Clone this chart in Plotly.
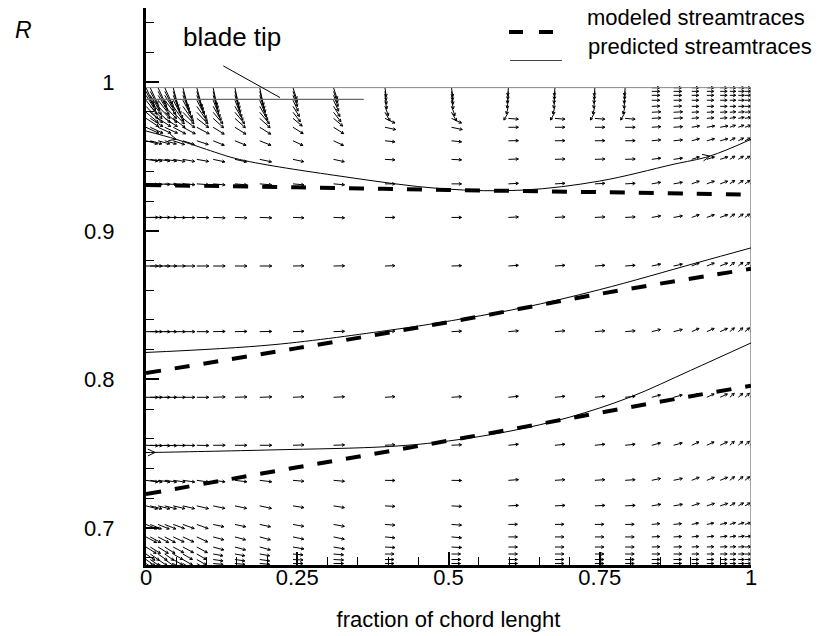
import math
import plotly.graph_objects as go

# ---------------- layout constants ----------------
FIG_W, FIG_H = 832, 636
M_L, M_R, M_T, M_B = 146, 81, 8, 71
X_RANGE = [0.0, 1.0]
Y_RANGE = [0.675, 1.05]
FONT = "Liberation Sans, Arial, Helvetica, sans-serif"

# ---------------- data ----------------
# modeled streamtraces (dashed)
mod_top_x = [0.0, 0.25, 0.5, 0.75, 1.0]
mod_top_R = [0.9308, 0.9293, 0.9275, 0.9260, 0.9243]
mod_mid_x = [0.0, 0.25, 0.5, 0.75, 1.0]
mod_mid_R = [0.8042, 0.8210, 0.8385, 0.8575, 0.8744]
mod_bot_x = [0.0, 0.125, 0.25, 0.375, 0.5, 0.625, 0.75, 0.875, 1.0]
mod_bot_R = [0.7227, 0.7318, 0.7408, 0.7497, 0.7587, 0.7680, 0.7775, 0.7868, 0.7957]

# predicted streamtraces (solid)
pre_top_x = [0.0, 0.05, 0.10, 0.155, 0.321, 0.49, 0.623, 0.75, 0.871, 0.932, 1.0]
pre_top_R = [0.9672, 0.9616, 0.9548, 0.9480, 0.9368, 0.9283, 0.9274, 0.9335, 0.9447, 0.9503, 0.9616]
pre_mid_x = [0.0, 0.21, 0.408, 0.49, 0.62, 0.75, 0.91, 1.0]
pre_mid_R = [0.8181, 0.8233, 0.8334, 0.8385, 0.8480, 0.8604, 0.8784, 0.8885]
pre_bot_x = [0.0, 0.015, 0.21, 0.403, 0.5, 0.6, 0.7, 0.8, 0.9, 1.0]
pre_bot_R = [0.7507, 0.7508, 0.7525, 0.7548, 0.7585, 0.7650, 0.7745, 0.7880, 0.8060, 0.8245]
# index of the point carrying a direction arrowhead on each predicted trace
pre_top_heads = [1, 9]
pre_bot_heads = [1]

# boundaries
domain_top_R = 0.9964
blade_tip_R = 0.9885
blade_tip_x = [0.0, 0.36]
leader_x = [0.1278, 0.2215]
leader_R = [1.011, 0.9897]

# vector grid: chordwise stations, radial stations
vec_x = [0.0, 0.007, 0.02, 0.031, 0.045, 0.061, 0.084, 0.111, 0.147, 0.188,
         0.243, 0.31, 0.395, 0.505, 0.599, 0.676, 0.742, 0.792, 0.836, 0.872,
         0.902, 0.927, 0.949, 0.965, 0.979, 0.99, 0.998]
vec_zone = [0, 0, 0, 0, 1, 1, 1, 2, 2, 2,
            3, 3, 4, 4, 5, 5, 5, 5, 6, 6,
            7, 7, 7, 8, 8, 8, 8]
vec_R = [0.9963, 0.9939, 0.9912, 0.9879, 0.9838, 0.9798, 0.9757, 0.9697,
         0.9606, 0.9481, 0.9316, 0.9090, 0.8763, 0.8321, 0.7879, 0.7556,
         0.7320, 0.7148, 0.7023, 0.6939, 0.6871, 0.6824, 0.6787, 0.6760]
# vector direction (deg, on screen) per radial station and chordwise zone
vec_angle = [
    [-65, -75, -78, -72, -82, -95, 0, 0, 0],
    [-62, -72, -75, -70, -82, -95, 0, 0, 0],
    [-58, -68, -72, -68, -80, -98, 0, 0, 0],
    [-52, -62, -68, -65, -78, -100, 0, 0, 0],
    [-46, -55, -60, -58, -70, -105, 2, 0, 0],
    [-40, -46, -50, -52, -60, -120, 3, 3, 5],
    [-33, -38, -42, -40, -25, -5, 3, 5, 10],
    [-25, -28, -32, -32, -12, 0, 4, 10, 20],
    [-15, -18, -22, -25, -6, 1, 6, 15, 28],
    [-8, -10, -12, -12, -3, 2, 8, 18, 32],
    [-3, -4, -5, -5, 0, 3, 10, 20, 35],
    [0, -1, -2, -2, 0, 3, 10, 20, 35],
    [0, 0, 0, 1, 2, 4, 12, 22, 38],
    [0, 0, 1, 2, 3, 5, 14, 24, 40],
    [0, 0, 2, 3, 4, 6, 15, 25, 42],
    [-2, -1, 0, 2, 3, 6, 15, 25, 42],
    [-8, -8, -7, -5, -1, 4, 12, 22, 38],
    [-14, -13, -12, -9, -3, 3, 10, 18, 30],
    [-22, -20, -12, -10, -4, 1, 6, 12, 18],
    [-28, -25, -15, -12, -5, 0, 3, 6, 8],
    [-32, -28, -15, -10, -3, 0, 2, 3, 4],
    [-35, -30, -10, -5, 0, 0, 0, 0, 0],
    [-35, -30, -8, -3, 0, 0, 0, 0, 0],
    [-35, -30, -5, 0, 0, 0, 0, 0, 0],
]
# vector magnitude (screen px) per radial station and chordwise zone
vec_len = [
    [18, 20, 18, 12, 9, 8, 8, 7, 6],
    [18, 20, 18, 12, 9, 8, 8, 7, 6],
    [18, 20, 18, 12, 9, 8, 8, 7, 6],
    [18, 20, 18, 12, 9, 8, 8, 7, 6],
    [17, 18, 16, 12, 10, 8, 8, 7, 6],
    [16, 16, 15, 12, 10, 9, 9, 7, 6],
    [15, 15, 14, 12, 11, 10, 9, 7, 6],
    [14, 14, 13, 12, 11, 10, 9, 8, 6],
    [12, 12, 12, 11, 10, 10, 9, 8, 6],
    [12, 12, 12, 11, 10, 10, 9, 8, 6],
    [12, 12, 12, 11, 10, 10, 9, 8, 6],
    [12, 12, 12, 11, 10, 10, 9, 8, 6],
    [12, 12, 12, 11, 10, 10, 9, 8, 6],
    [12, 12, 12, 11, 10, 10, 9, 8, 6],
    [12, 12, 12, 11, 10, 10, 9, 8, 6],
    [12, 12, 12, 11, 10, 10, 9, 8, 6],
    [12, 12, 12, 11, 10, 10, 9, 8, 6],
    [12, 12, 12, 11, 10, 10, 9, 8, 6],
    [12, 12, 11, 11, 10, 9, 8, 7, 6],
    [12, 12, 11, 11, 10, 9, 8, 7, 6],
    [12, 12, 11, 11, 10, 9, 8, 7, 6],
    [11, 11, 10, 10, 9, 9, 8, 7, 6],
    [11, 11, 10, 10, 9, 9, 8, 7, 6],
    [11, 11, 10, 10, 9, 9, 8, 7, 6],
]

# ---------------- geometry helpers ----------------
PLOT_W = FIG_W - M_L - M_R
PLOT_H = FIG_H - M_T - M_B
SX = PLOT_W / (X_RANGE[1] - X_RANGE[0])   # px per x unit
SY = PLOT_H / (Y_RANGE[1] - Y_RANGE[0])   # px per R unit


def head(xt, yt, ang_deg, size, spread):
    """two barbs of an arrowhead at (xt, yt) for a direction on screen"""
    pts = []
    for s in (spread, -spread):
        a = math.radians(ang_deg + 180 + s)
        pts.append((xt + size * math.cos(a) / SX, yt + size * math.sin(a) / SY))
    return [pts[0][0], xt, pts[1][0], None], [pts[0][1], yt, pts[1][1], None]


# vector field segments
vx, vy = [], []
for i, r in enumerate(vec_R):
    for j, x0 in enumerate(vec_x):
        z = vec_zone[j]
        ang = vec_angle[i][z]
        L = vec_len[i][z]
        a = math.radians(ang)
        x1 = x0 + L * math.cos(a) / SX
        y1 = r + L * math.sin(a) / SY
        vx += [x0, x1, None]
        vy += [r, y1, None]
        hx, hy = head(x1, y1, ang, 3.0, 28)
        vx += hx
        vy += hy

fig = go.Figure()

fig.add_trace(go.Scatter(x=vx, y=vy, mode="lines",
                         line=dict(color="black", width=1.0),
                         hoverinfo="skip", showlegend=False))

# boundaries
fig.add_trace(go.Scatter(x=[X_RANGE[0], X_RANGE[1]], y=[domain_top_R, domain_top_R],
                         mode="lines", line=dict(color="#8a8a8a", width=1),
                         showlegend=False, hoverinfo="skip"))
fig.add_trace(go.Scatter(x=[X_RANGE[1], X_RANGE[1]], y=[Y_RANGE[0], domain_top_R],
                         mode="lines", line=dict(color="#8a8a8a", width=1.5),
                         showlegend=False, hoverinfo="skip"))
fig.add_trace(go.Scatter(x=blade_tip_x, y=[blade_tip_R, blade_tip_R],
                         mode="lines", line=dict(color="#6a6a6a", width=1.2),
                         showlegend=False, hoverinfo="skip"))
fig.add_trace(go.Scatter(x=leader_x, y=leader_R, mode="lines",
                         line=dict(color="black", width=1),
                         showlegend=False, hoverinfo="skip", cliponaxis=False))

# modeled streamtraces
for xs, rs in [(mod_top_x, mod_top_R), (mod_mid_x, mod_mid_R), (mod_bot_x, mod_bot_R)]:
    fig.add_trace(go.Scatter(x=xs, y=rs, mode="lines",
                             line=dict(color="black", width=4, dash="15px,14px", shape="spline"),
                             showlegend=False, hoverinfo="skip"))

# predicted streamtraces
for xs, rs, heads in [(pre_top_x, pre_top_R, pre_top_heads),
                      (pre_mid_x, pre_mid_R, []),
                      (pre_bot_x, pre_bot_R, pre_bot_heads)]:
    fig.add_trace(go.Scatter(x=xs, y=rs, mode="lines",
                             line=dict(color="black", width=1, shape="spline"),
                             showlegend=False, hoverinfo="skip"))
    hx_all, hy_all = [], []
    for k in heads:
        dxp = (xs[k] - xs[k - 1]) * SX
        dyp = (rs[k] - rs[k - 1]) * SY
        ang = math.degrees(math.atan2(dyp, dxp))
        hx, hy = head(xs[k], rs[k], ang, 8.0, 25)
        hx_all += hx
        hy_all += hy
    if heads:
        fig.add_trace(go.Scatter(x=hx_all, y=hy_all, mode="lines",
                                 line=dict(color="black", width=1),
                                 showlegend=False, hoverinfo="skip"))


def px2paper(px, py):
    return (px - M_L) / PLOT_W, (FIG_H - M_B - py) / PLOT_H


shapes = []
for x0p, x1p in [(509, 523), (539, 553)]:
    a = px2paper(x0p, 32)
    b = px2paper(x1p, 32)
    shapes.append(dict(type="line", xref="paper", yref="paper",
                       x0=a[0], y0=a[1], x1=b[0], y1=b[1],
                       line=dict(color="black", width=4)))
a = px2paper(510, 60.5)
b = px2paper(562, 60.5)
shapes.append(dict(type="line", xref="paper", yref="paper",
                   x0=a[0], y0=a[1], x1=b[0], y1=b[1],
                   line=dict(color="#444444", width=1)))

annotations = []
for txt, px, py in [("modeled streamtraces", 585, 18), ("predicted streamtraces", 586, 47)]:
    p = px2paper(px, py)
    annotations.append(dict(text=txt, xref="paper", yref="paper", x=p[0], y=p[1],
                            xanchor="left", yanchor="middle", showarrow=False,
                            font=dict(family=FONT, size=22, color="black")))
p = px2paper(232, 37)
annotations.append(dict(text="blade tip", xref="paper", yref="paper", x=p[0], y=p[1],
                        xanchor="center", yanchor="middle", showarrow=False,
                        font=dict(family=FONT, size=26, color="black")))
p = px2paper(23, 30)
annotations.append(dict(text="<i>R</i>", xref="paper", yref="paper", x=p[0], y=p[1],
                        xanchor="center", yanchor="middle", showarrow=False,
                        font=dict(family=FONT, size=23, color="black")))

fig.update_layout(
    width=FIG_W, height=FIG_H,
    margin=dict(l=M_L, r=M_R, t=M_T, b=M_B, autoexpand=False),
    paper_bgcolor="white", plot_bgcolor="white",
    font=dict(family=FONT, size=22, color="black"),
    shapes=shapes, annotations=annotations,
    showlegend=False,
    xaxis=dict(range=X_RANGE, tick0=0, dtick=0.25, ticks="inside", ticklen=13,
               tickwidth=2, tickcolor="black", showline=True, linewidth=3,
               linecolor="black", showgrid=False, zeroline=False,
               ticklabelstandoff=-9,
               minor=dict(tick0=0, dtick=0.05, ticks="inside", ticklen=8,
                          tickwidth=1, tickcolor="black", showgrid=False),
               title=dict(text="fraction of chord lenght", standoff=23,
                          font=dict(family=FONT, size=22))),
    yaxis=dict(range=Y_RANGE, tick0=0, dtick=0.1, ticks="inside", ticklen=13,
               tickwidth=2, tickcolor="black", showline=True, linewidth=3,
               linecolor="black", showgrid=False, zeroline=False,
               ticklabelstandoff=24,
               minor=dict(tick0=0, dtick=0.02, ticks="inside", ticklen=8,
                          tickwidth=1, tickcolor="black", showgrid=False)),
)

fig.write_html("out.html", config={"displayModeBar": False},
               post_script="document.body.style.margin='0';document.body.style.padding='0';")
